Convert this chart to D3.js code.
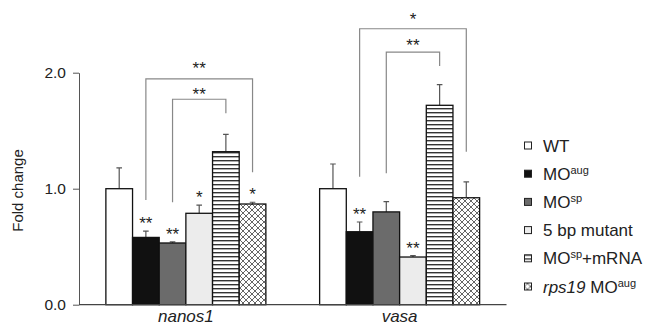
<!DOCTYPE html>
<html>
<head>
<meta charset="utf-8">
<script src="https://cdn.jsdelivr.net/npm/d3@7"></script>
<style>
  body { margin: 0; background: #fff; }
  svg { font-family: "Liberation Sans", Arial, sans-serif; }
</style>
</head>
<body>
<svg id="chart" width="649" height="327"></svg>
<script>
// data
const genes = ["nanos1", "vasa"];
const series = ["WT", "MOaug", "MOsp", "5bp", "MOsp+mRNA", "rps19"];
const nanosMean = [1.0, 0.58, 0.532, 0.788, 1.319, 0.868];
const nanosErr = [0.18, 0.055, 0.01, 0.07, 0.15, 0.015];
const nanosStars = ["", "**", "**", "*", "", "*"];
const vasaMean = [1.0, 0.629, 0.80, 0.411, 1.719, 0.922];
const vasaErr = [0.213, 0.084, 0.088, 0.012, 0.178, 0.136];
const vasaStars = ["", "**", "", "**", "", ""];
const yTicks = [0, 1, 2];

// brackets: gene, from, to, top, left leg end, right leg end, label, label height
const bracketGene = ["nanos1", "nanos1", "vasa", "vasa"];
const bracketFrom = ["MOaug", "MOsp", "MOaug", "MOsp"];
const bracketTo = ["rps19", "MOsp+mRNA", "rps19", "MOsp+mRNA"];
const bracketTop = [1.946, 1.771, 2.379, 2.178];
const bracketLeft = [0.903, 0.883, 1.103, 1.133];
const bracketRight = [1.141, 1.65, 1.319, 2.058];
const bracketLabel = ["**", "**", "*", "**"];
const bracketLabelAt = [2.067, 1.845, 2.497, 2.267];

const svg = d3.select("#chart");
const defs = svg.append("defs");

// horizontal stripes
const stripes = defs.append("pattern")
    .attr("id", "stripes")
    .attr("patternUnits", "userSpaceOnUse")
    .attr("width", 4).attr("height", 4);
stripes.append("rect").attr("width", 4).attr("height", 4).attr("fill", "#fff");
stripes.append("rect").attr("y", 0).attr("width", 4).attr("height", 1.4).attr("fill", "#333");

// diamond crosshatch
const hatch = defs.append("pattern")
    .attr("id", "hatch")
    .attr("patternUnits", "userSpaceOnUse")
    .attr("width", 6).attr("height", 6);
hatch.append("rect").attr("width", 6).attr("height", 6).attr("fill", "#fff");
hatch.append("path").attr("d", "M0,0L6,6M6,0L0,6M-1,5L1,7M5,-1L7,1M-1,1L1,-1M5,7L7,5")
    .attr("stroke", "#666").attr("stroke-width", 1).attr("fill", "none");

const fills = {
  "WT": "#fff",
  "MOaug": "#111",
  "MOsp": "#6b6b6b",
  "5bp": "#ececec",
  "MOsp+mRNA": "url(#stripes)",
  "rps19": "url(#hatch)"
};

const rows = [
  {gene: "nanos1", mean: nanosMean, err: nanosErr, stars: nanosStars},
  {gene: "vasa", mean: vasaMean, err: vasaErr, stars: vasaStars}
];

const x0 = d3.scaleBand().domain(genes).range([79, 506.5]).padding(0);
const groupW = 160;
const x1 = d3.scaleBand().domain(series).range([0, groupW]).padding(0);
const groupLeft = g => x0(g) + (x0.bandwidth() - groupW) / 2;
const cx = (g, s) => groupLeft(g) + x1(s) + x1.bandwidth() / 2;

const y = d3.scaleLinear().domain([0, 2]).range([304.7, 72.7]);

// y axis
const yAxis = svg.append("g")
    .attr("transform", "translate(79,0)")
    .call(d3.axisLeft(y).tickValues(yTicks).tickFormat(d3.format(".1f")).tickSize(6).tickPadding(7).tickSizeOuter(0));
yAxis.select(".domain").attr("stroke", "#555");
yAxis.selectAll(".tick line").attr("stroke", "#555");
yAxis.selectAll(".tick text").attr("font-size", 15.5).attr("fill", "#222")
    .attr("font-family", "Liberation Sans, Arial, sans-serif");

svg.append("text")
    .attr("transform", "translate(23,190.5) rotate(-90)")
    .attr("text-anchor", "middle")
    .attr("font-size", 15)
    .attr("fill", "#222")
    .text("Fold change");

// bars
rows.forEach(r => {
  const g = svg.append("g");
  const data = series.map((s, i) => ({s: s, v: r.mean[i], e: r.err[i], star: r.stars[i]}));

  // error bars (upper only)
  g.selectAll(".err").data(data).join("path")
      .attr("d", d => {
        const c = cx(r.gene, d.s), t = y(d.v + d.e);
        return "M" + c + "," + y(d.v) + "V" + t + "M" + (c - 2.8) + "," + t + "H" + (c + 2.8);
      })
      .attr("stroke", "#555").attr("stroke-width", 1.2).attr("fill", "none");

  g.selectAll(".bar").data(data).join("rect")
      .attr("x", d => groupLeft(r.gene) + x1(d.s))
      .attr("y", d => y(d.v))
      .attr("width", x1.bandwidth())
      .attr("height", d => y(0) - y(d.v))
      .attr("fill", d => fills[d.s])
      .attr("stroke", "#111")
      .attr("stroke-width", 1.3);

  g.selectAll(".star").data(data.filter(d => d.star)).join("text")
      .attr("x", d => cx(r.gene, d.s))
      .attr("y", d => y(d.v + d.e) - 2)
      .attr("text-anchor", "middle")
      .attr("font-size", 17)
      .attr("fill", "#222")
      .text(d => d.star);

  svg.append("text")
      .attr("x", x0(r.gene) + x0.bandwidth() / 2)
      .attr("y", 322)
      .attr("text-anchor", "middle")
      .attr("font-size", 17)
      .attr("font-style", "italic")
      .attr("fill", "#222")
      .text(r.gene);
});

// x axis line
svg.append("line")
    .attr("x1", x0.range()[0]).attr("x2", x0.range()[1])
    .attr("y1", y(0)).attr("y2", y(0))
    .attr("stroke", "#444").attr("stroke-width", 1.3);

// significance brackets
bracketGene.forEach((gName, i) => {
  const xl = cx(gName, bracketFrom[i]), xr = cx(gName, bracketTo[i]);
  svg.append("path")
      .attr("d", "M" + xl + "," + y(bracketLeft[i]) + "V" + y(bracketTop[i]) + "H" + xr + "V" + y(bracketRight[i]))
      .attr("fill", "none").attr("stroke", "#888").attr("stroke-width", 1.2);
  svg.append("text")
      .attr("x", (xl + xr) / 2)
      .attr("y", y(bracketLabelAt[i]) + 9.5)
      .attr("text-anchor", "middle")
      .attr("font-size", 17)
      .attr("fill", "#222")
      .text(bracketLabel[i]);
});

// legend
const legend = svg.append("g").attr("transform", "translate(524.5,145.5)");
const legendRows = legend.selectAll("g").data(series).join("g")
    .attr("transform", (d, i) => "translate(0," + (i * 28.2) + ")");
legendRows.append("rect")
    .attr("x", 0).attr("y", -3.5).attr("width", 7).attr("height", 7)
    .attr("fill", d => fills[d]).attr("stroke", "#222").attr("stroke-width", 1);

const lt = legendRows.append("text")
    .attr("x", 18.5).attr("y", 6)
    .attr("font-size", 17).attr("fill", "#222");
lt.each(function (d) {
  const t = d3.select(this);
  const sup = (s) => t.append("tspan").attr("font-size", 11).attr("dy", -6).text(s);
  const back = (s) => t.append("tspan").attr("dy", 6).text(s);
  if (d === "WT") t.text("WT");
  else if (d === "MOaug") { t.append("tspan").text("MO"); sup("aug"); }
  else if (d === "MOsp") { t.append("tspan").text("MO"); sup("sp"); }
  else if (d === "5bp") t.text("5 bp mutant");
  else if (d === "MOsp+mRNA") { t.append("tspan").text("MO"); sup("sp"); back("+mRNA"); }
  else { t.append("tspan").attr("font-style", "italic").text("rps19"); t.append("tspan").text(" MO"); sup("aug"); }
});
</script>
</body>
</html>
